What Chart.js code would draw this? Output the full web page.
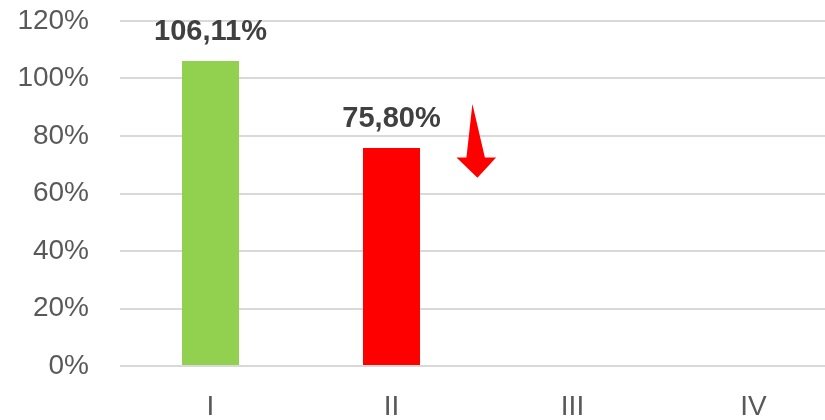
<!DOCTYPE html>
<html>
<head>
<meta charset="utf-8">
<script src="https://cdn.jsdelivr.net/npm/chart.js@4"></script>
<style>
    html, body { margin: 0; padding: 0; background: #fff; overflow: hidden; }
    #wrap { width: 825px; height: 420px; overflow: hidden; position: relative; }
    #chart { position: absolute; left: 0; top: 0; }
</style>
</head>
<body>
<div id="wrap"><canvas id="chart" width="844" height="424"></canvas></div>
<script>
const quarters = ['I', 'II', 'III', 'IV'];
const achievement = [106.11, 75.80, null, null];
const barColors = ['#92D050', '#FF0000', '#92D050', '#92D050'];
const yTicks = [0, 20, 40, 60, 80, 100, 120];

// down arrow next to quarter II, in (category index, percent) units
const arrowShape = [
    [1.447, 91.1], [1.516, 72.5], [1.578, 72.5], [1.475, 65.5],
    [1.359, 72.5], [1.414, 72.5]
];

const FONT = '"Liberation Sans", Arial, sans-serif';

const valueLabels = {
    id: 'valueLabels',
    afterDatasetsDraw(chart) {
        const ctx = chart.ctx;
        const meta = chart.getDatasetMeta(0);
        ctx.save();
        ctx.font = 'bold 29px ' + FONT;
        ctx.fillStyle = '#404040';
        ctx.textAlign = 'center';
        ctx.textBaseline = 'alphabetic';
        meta.data.forEach((bar, i) => {
            const v = achievement[i];
            if (v === null || v === undefined) return;
            ctx.fillText(v.toFixed(2).replace('.', ',') + '%', bar.x, bar.y - 21);
        });
        ctx.restore();
    }
};

const downArrow = {
    id: 'downArrow',
    afterDatasetsDraw(chart) {
        const ctx = chart.ctx;
        const xs = chart.scales.x;
        const ys = chart.scales.y;
        const step = xs.getPixelForValue(1) - xs.getPixelForValue(0);
        ctx.save();
        ctx.fillStyle = '#FF0000';
        ctx.beginPath();
        arrowShape.forEach(([ix, v], k) => {
            const px = xs.getPixelForValue(0) + ix * step;
            const py = ys.getPixelForValue(v);
            if (k === 0) ctx.moveTo(px, py); else ctx.lineTo(px, py);
        });
        ctx.closePath();
        ctx.fill();
        ctx.restore();
    }
};

new Chart(document.getElementById('chart').getContext('2d'), {
    type: 'bar',
    data: {
        labels: quarters,
        datasets: [{
            data: achievement,
            backgroundColor: barColors,
            borderWidth: 0,
            barPercentage: 0.315,
            categoryPercentage: 1
        }]
    },
    options: {
        responsive: false,
        animation: false,
        layout: { padding: { top: 21, right: 0, bottom: 0, left: 0 } },
        plugins: {
            legend: { display: false },
            tooltip: { enabled: false }
        },
        scales: {
            x: {
                afterFit(scale) {
                    scale.height = 58;
                    scale.paddingLeft = 0;
                    scale.paddingRight = 0;
                },
                grid: { display: false, drawTicks: false },
                border: { display: false },
                ticks: {
                    color: '#595959',
                    font: { family: FONT, size: 28 },
                    padding: 24
                }
            },
            y: {
                min: 0,
                max: 120,
                afterFit(scale) {
                    scale.width = 120;
                    scale.paddingTop = 0;
                    scale.paddingBottom = 0;
                },
                afterBuildTicks(scale) { scale.ticks = yTicks.map(v => ({ value: v })); },
                grid: { color: '#d9d9d9', lineWidth: 2, drawTicks: false },
                border: { display: false },
                ticks: {
                    color: '#595959',
                    font: { family: FONT, size: 28 },
                    padding: 31,
                    callback: v => v + '%'
                }
            }
        }
    },
    plugins: [valueLabels, downArrow]
});
</script>
</body>
</html>
